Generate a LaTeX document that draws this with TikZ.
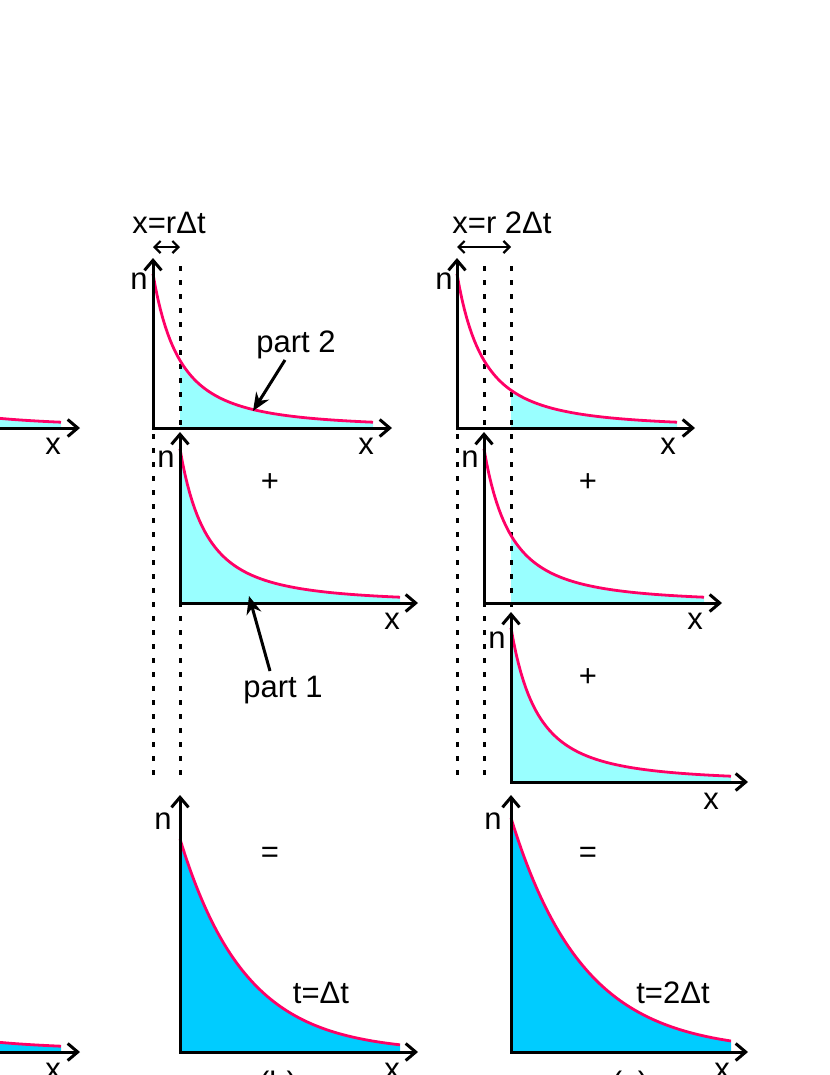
\documentclass[tikz,border=0pt]{standalone}
\usepackage{fontspec}
\setmainfont{Liberation Sans}
\usetikzlibrary{arrows.meta}
\definecolor{pinkc}{HTML}{FF0066}
\definecolor{lcyan}{HTML}{99FFFF}
\definecolor{dcyan}{HTML}{00CCFF}
\newcommand{\ffill}[4]{\fill[#4] ({#1+#3},#2) -- plot[domain=#3:220,samples=70] ({#1+\x},{#2-154/((1+\x/53)^2)}) -- ({#1+220},#2) -- cycle;}
\newcommand{\fline}[2]{\draw[curve] plot[domain=0:220,samples=90] ({#1+\x},{#2-154/((1+\x/53)^2)});}
\begin{document}
\begin{tikzpicture}[x=1bp,y=-1bp,
  axes/.style={line width=3bp, line join=miter, {Straight Barb[length=10bp,width=17bp,line width=3bp]}-{Straight Barb[length=10bp,width=17bp,line width=3bp]}},
  curve/.style={pinkc, line width=2.8bp},
  dots/.style={line width=3bp, dash pattern=on 5bp off 9bp},
  lbl/.style={font=\fontsize{31bp}{36bp}\selectfont, inner sep=0pt},
  ptr/.style={line width=3bp, -{Stealth[length=18bp,width=15bp]}},
  dbl/.style={line width=2.2bp, {Straight Barb[length=6bp,width=12bp,line width=2.2bp]}-{Straight Barb[length=6bp,width=12bp,line width=2.2bp]}}
]
\useasboundingbox (0,0) rectangle (830,1075);
\begin{scope}
\clip (0,0) rectangle (830,1075);
% fills
\ffill{-159}{428}{0}{lcyan}
\fill[dcyan] (-159,1052) -- plot[domain=0:220,samples=70] ({-159+\x},{1052-154/((1+\x/53)^2)}) -- (61,1052) -- cycle;
\ffill{153}{428}{27}{lcyan}
\ffill{180}{603}{0}{lcyan}
\ffill{457}{428}{54}{lcyan}
\ffill{484}{603}{27}{lcyan}
\ffill{511}{782}{0}{lcyan}
\fill[dcyan] (180,1052) -- plot[domain=0:220,samples=80] ({180+\x},{1052-213*exp(-\x/65)}) -- (400,1052) -- cycle;
\fill[dcyan] (511,1052) -- plot[domain=0:220,samples=80] ({511+\x},{1052-234*exp(-\x/72)}) -- (731,1052) -- cycle;
% dotted guide lines
\draw[dots] (180,266) -- (180,776);
\draw[dots] (153,434) -- (153,776);
\draw[dots] (484,266) -- (484,781);
\draw[dots] (511,266) -- (511,781);
\draw[dots] (457,434) -- (457,781);
% curves
\fline{-159}{428}
\draw[curve] plot[domain=0:220,samples=90] ({-159+\x},{1052-154/((1+\x/53)^2)});
\fline{153}{428}
\fline{180}{603}
\fline{457}{428}
\fline{484}{603}
\fline{511}{782}
\draw[curve] plot[domain=0:220,samples=90] ({180+\x},{1052-213*exp(-\x/65)});
\draw[curve] plot[domain=0:220,samples=90] ({511+\x},{1052-234*exp(-\x/72)});
% axes
\draw[axes] (-159,258) -- (-159,428) -- (80,428);
\draw[axes] (-159,795) -- (-159,1052) -- (80,1052);
\draw[axes] (153,258) -- (153,428) -- (392,428);
\draw[axes] (180,432) -- (180,603) -- (418,603);
\draw[axes] (180,795) -- (180,1052) -- (418,1052);
\draw[axes] (457,258) -- (457,428) -- (695,428);
\draw[axes] (484,432) -- (484,603) -- (722,603);
\draw[axes] (511,612) -- (511,782) -- (748,782);
\draw[axes] (511,795) -- (511,1052) -- (748,1052);
% axis labels
\node[lbl] (xa1) at (53,446) {x};
\node[lbl] (xa2) at (53,1071) {x};
\node[lbl] (nb1) at (139,281) {n};
\node[lbl] (xb1) at (366,446) {x};
\node[lbl] (nb2) at (166,459) {n};
\node[lbl] (xb2) at (392,621) {x};
\node[lbl] (nb3) at (163,821) {n};
\node[lbl] (xb3) at (392,1071) {x};
\node[lbl] (nc1) at (444,281) {n};
\node[lbl] (xc1) at (668,446) {x};
\node[lbl] (nc2) at (470,459) {n};
\node[lbl] (xc2) at (695,621) {x};
\node[lbl] (nc3) at (497,640) {n};
\node[lbl] (xc3) at (711,801) {x};
\node[lbl] (nc4) at (493,821) {n};
\node[lbl] (xc4) at (722,1071) {x};
% operators
\node[lbl] (plusb) at (270,483) {+};
\node[lbl] (plusc1) at (588,483) {+};
\node[lbl] (plusc2) at (588,678) {+};
\node[lbl] (eqb) at (270,855) {=};
\node[lbl] (eqc) at (588,855) {=};
% texts
\node[lbl, anchor=base] (tb) at (321,1003) {t=Δt};
\node[lbl, anchor=base] (tc) at (673,1003) {t=2Δt};
\node[lbl, anchor=base] (capb) at (278,1093) {(b)};
\node[lbl, anchor=base] (capc) at (630,1093) {(c)};
\node[lbl, anchor=base] (rb) at (169,233) {x=rΔt};
\node[lbl, anchor=base] (rc) at (502,233) {x=r 2Δt};
\node[lbl, anchor=base] (p2) at (296,352) {part 2};
\node[lbl, anchor=base] (p1) at (283,697) {part 1};
% pointers
\coordinate (p2s) at (285,360);
\coordinate (p2t) at (253,411);
\coordinate (p1s) at (270,671);
\coordinate (p1t) at (249,596);
\draw[ptr] (p2s) -- (p2t);
\draw[ptr] (p1s) -- (p1t);
% width arrows
\coordinate (wb1) at (153,247);
\coordinate (wb2) at (180,247);
\coordinate (wc1) at (457,247);
\coordinate (wc2) at (511,247);
\draw[dbl] (wb1) -- (wb2);
\draw[dbl] (wc1) -- (wc2);
\end{scope}
\end{tikzpicture}
\end{document}
